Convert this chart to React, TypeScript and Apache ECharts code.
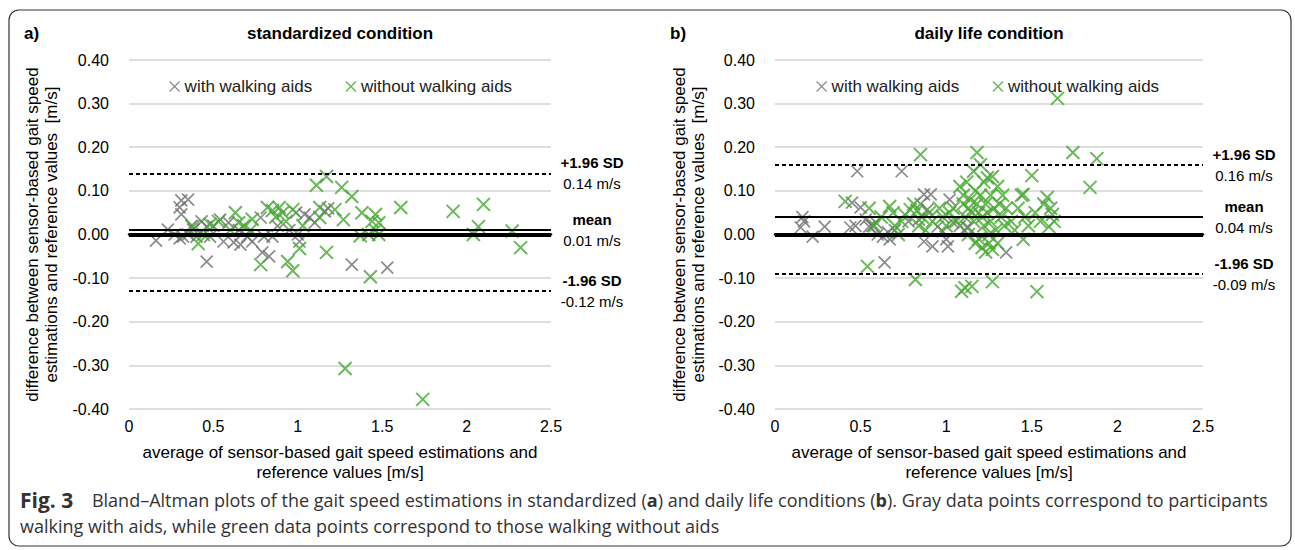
import React, { useEffect, useRef } from "react";
import * as echarts from "echarts";

const seriesNames = ["with walking aids", "without walking aids"];
const panelLetters = ["a)", "b)"];
const panelTitles = ["standardized condition", "daily life condition"];
const xAxisTitle = "average of sensor-based gait speed estimations and\nreference values [m/s]";
const yAxisTitle = "difference between sensor-based gait speed\nestimations and reference values  [m/s]";

// (a) standardized condition: [average, difference]
const stdWithAids: number[][] = [
  [0.16, -0.014], [0.23, 0.011], [0.27, 0.0], [0.3, 0.062], [0.31, 0.078], [0.35, 0.08], [0.31, 0.046],
  [0.32, -0.005], [0.3, -0.009], [0.35, 0.0], [0.37, 0.02], [0.38, 0.011], [0.4, -0.005], [0.43, 0.03],
  [0.46, 0.018], [0.46, -0.062], [0.48, -0.005], [0.5, 0.02], [0.54, 0.034], [0.56, -0.016], [0.59, 0.027],
  [0.62, -0.018], [0.65, 0.01], [0.66, -0.023], [0.7, -0.005], [0.73, -0.016], [0.78, 0.039], [0.79, -0.041],
  [0.83, -0.05], [0.8, -0.005], [0.85, -0.005], [0.88, 0.02], [0.95, 0.01], [0.99, 0.05], [1.0, 0.0],
  [1.01, -0.016], [1.04, 0.046], [1.07, 0.039], [1.1, 0.027], [1.16, 0.053], [1.18, 0.06], [1.32, -0.069],
  [1.53, -0.076],
];
const stdWithoutAids: number[][] = [
  [0.38, 0.018], [0.41, -0.021], [0.44, 0.0], [0.48, 0.023], [0.53, 0.03], [0.6, 0.01], [0.63, 0.05],
  [0.65, 0.027], [0.68, 0.02], [0.72, 0.01], [0.73, 0.035], [0.78, -0.069], [0.82, 0.062], [0.85, 0.055],
  [0.87, 0.04], [0.89, 0.062], [0.91, 0.05], [0.93, 0.03], [0.97, 0.057], [0.94, -0.062], [0.97, -0.083],
  [1.01, -0.032], [1.03, 0.02], [1.11, 0.113], [1.17, 0.133], [1.13, 0.062], [1.13, 0.039], [1.17, -0.041],
  [1.22, 0.057], [1.26, 0.108], [1.27, 0.034], [1.32, 0.087], [1.28, -0.307], [1.38, 0.05], [1.37, -0.003],
  [1.42, 0.0], [1.44, 0.03], [1.46, 0.046], [1.48, 0.027], [1.48, 0.0], [1.46, 0.01], [1.43, -0.097],
  [1.61, 0.062], [1.74, -0.378], [1.92, 0.053], [2.04, 0.0], [2.07, 0.018], [2.1, 0.069], [2.27, 0.008],
  [2.32, -0.03],
];

// (b) daily life condition: [average, difference]
const dailyWithAids: number[][] = [
  [0.16, 0.04], [0.15, 0.016], [0.17, 0.03], [0.22, -0.005], [0.29, 0.018], [0.45, 0.073], [0.48, 0.145],
  [0.5, 0.062], [0.44, 0.016], [0.47, 0.02], [0.53, 0.034], [0.55, 0.018], [0.57, 0.02], [0.59, 0.027],
  [0.6, 0.0], [0.63, -0.005], [0.64, -0.064], [0.67, -0.011], [0.66, 0.005], [0.74, 0.145], [0.7, 0.01],
  [0.78, 0.03], [0.84, 0.034], [0.85, 0.07], [0.87, 0.092], [0.91, 0.092], [0.89, 0.057], [0.87, -0.016],
  [0.92, -0.027], [0.95, 0.018], [0.98, 0.007], [1.0, -0.011], [1.01, -0.027], [1.02, 0.08], [1.04, 0.027],
  [1.08, 0.02], [1.12, 0.016], [1.13, 0.016], [1.35, -0.041],
];
const dailyWithoutAids: number[][] = [
  [0.41, 0.076], [0.54, -0.073], [0.55, 0.06], [0.58, 0.02], [0.62, 0.04], [0.67, 0.064], [0.69, 0.05],
  [0.7, 0.02], [0.72, 0.0], [0.74, 0.03], [0.76, 0.045], [0.79, 0.057], [0.81, 0.07], [0.83, 0.055],
  [0.85, 0.183], [0.82, -0.103], [0.84, 0.02], [0.86, 0.04], [0.88, 0.01], [0.9, 0.05], [0.92, 0.03],
  [0.96, 0.06], [0.98, 0.04], [1.0, 0.02], [1.02, 0.05], [1.04, 0.06], [1.06, 0.03], [1.08, 0.11],
  [1.09, -0.13], [1.1, 0.09], [1.1, 0.07], [1.11, 0.04], [1.11, -0.122], [1.12, 0.12], [1.13, 0.06],
  [1.13, 0.0], [1.14, 0.08], [1.15, 0.05], [1.15, -0.119], [1.16, 0.145], [1.16, 0.03], [1.17, 0.1],
  [1.17, -0.02], [1.18, 0.188], [1.18, 0.07], [1.19, 0.05], [1.19, -0.01], [1.2, 0.16], [1.2, 0.09],
  [1.21, 0.04], [1.21, -0.03], [1.22, 0.12], [1.22, 0.02], [1.23, 0.07], [1.23, -0.04], [1.24, 0.13],
  [1.24, 0.05], [1.25, 0.0], [1.25, -0.02], [1.26, 0.09], [1.26, 0.03], [1.27, 0.133], [1.27, -0.108],
  [1.27, -0.034], [1.28, 0.06], [1.29, 0.01], [1.3, 0.11], [1.3, -0.02], [1.31, 0.07], [1.32, 0.04],
  [1.33, 0.09], [1.34, 0.02], [1.35, 0.06], [1.38, 0.03], [1.4, 0.01], [1.42, 0.06], [1.44, 0.09],
  [1.45, 0.092], [1.45, -0.011], [1.46, 0.04], [1.48, 0.02], [1.5, 0.135], [1.52, 0.05], [1.53, -0.131],
  [1.55, 0.03], [1.57, 0.07], [1.59, 0.085], [1.6, 0.018], [1.61, 0.06], [1.62, 0.046], [1.63, 0.03],
  [1.65, 0.312], [1.74, 0.188], [1.84, 0.108], [1.88, 0.174],
];

const meanValues = [0.012, 0.04];
const upperLoA = [0.141, 0.1615];
const lowerLoA = [-0.13, -0.088];
const meanLabels = ["0.01 m/s", "0.04 m/s"];
const upperLabels = ["0.14 m/s", "0.16 m/s"];
const lowerLabels = ["-0.12 m/s", "-0.09 m/s"];

const captionLine1 =
  "{f|Fig. 3}    Bland–Altman plots of the gait speed estimations in standardized ({b|a}) and daily life conditions ({b|b}). Gray data points correspond to participants";
const captionLine2 = "walking with aids, while green data points correspond to those walking without aids";

const GRAY = "#6d6e71";
const GREEN = "#45a82f";
const FONT = "Liberation Sans, Arial, sans-serif";
const CAPFONT = "Open Sans, sans-serif";
const CROSS = "path://M0,0L10,10M10,0L0,10";

export default function App() {
  const ref = useRef<HTMLDivElement>(null);
  useEffect(() => {
    document.body.style.margin = "0";
    const chart = echarts.init(ref.current!, null, { renderer: "svg" });
    const grids = [
      { left: 129, top: 60, width: 422, height: 349 },
      { left: 775, top: 60, width: 428, height: 349 },
    ];
    const panels = [
      [stdWithAids, stdWithoutAids],
      [dailyWithAids, dailyWithoutAids],
    ];
    const series: any[] = [];
    const graphic: any[] = [];
    panels.forEach((p, i) => {
      series.push({
        type: "scatter",
        name: seriesNames[0],
        xAxisIndex: i,
        yAxisIndex: i,
        data: p[0],
        symbol: CROSS,
        symbolSize: 12,
        silent: true,
        itemStyle: { color: "transparent", borderColor: GRAY, borderWidth: 1.7 },
        z: 3,
      });
      series.push({
        type: "scatter",
        name: seriesNames[1],
        xAxisIndex: i,
        yAxisIndex: i,
        data: p[1],
        symbol: CROSS,
        symbolSize: 13,
        silent: true,
        itemStyle: { color: "transparent", borderColor: GREEN, borderWidth: 2 },
        z: 4,
      });
      const lbl = (title: string, val: string) => ({
        show: true,
        position: "end",
        distance: 41,
        align: "center",
        formatter: `{b|${title}}\n{n|${val}}`,
        rich: {
          b: { fontFamily: FONT, fontSize: 15, fontWeight: "bold", color: "#000", lineHeight: 21 },
          n: { fontFamily: FONT, fontSize: 15, color: "#000", lineHeight: 21 },
        },
      });
      series.push({
        type: "scatter",
        name: "limits" + i,
        xAxisIndex: i,
        yAxisIndex: i,
        data: [],
        silent: true,
        z: 6,
        markLine: {
          silent: true,
          symbol: "none",
          animation: false,
          data: [
            { yAxis: 0, lineStyle: { color: "#000", width: 4, type: "solid" }, label: { show: false } },
            { yAxis: meanValues[i], lineStyle: { color: "#000", width: 2, type: "solid" }, label: lbl("mean", meanLabels[i]) },
            { yAxis: upperLoA[i], lineStyle: { color: "#000", width: 2, type: [4, 3] }, label: lbl("+1.96 SD", upperLabels[i]) },
            { yAxis: lowerLoA[i], lineStyle: { color: "#000", width: 2, type: [4, 3] }, label: lbl("-1.96 SD", lowerLabels[i]) },
          ],
        },
      });
      const g = grids[i];
      const cx = g.left + g.width / 2;
      graphic.push({
        type: "text",
        x: cx,
        y: 33,
        style: { text: panelTitles[i], fontFamily: FONT, fontSize: 17, fontWeight: "bold", fill: "#000", align: "center", verticalAlign: "middle" },
      });
      graphic.push({
        type: "text",
        x: i === 0 ? 24 : 670,
        y: 33,
        style: { text: panelLetters[i], fontFamily: FONT, fontSize: 17, fontWeight: "bold", fill: "#000", align: "left", verticalAlign: "middle" },
      });
      graphic.push({
        type: "text",
        x: cx,
        y: 462,
        style: { text: xAxisTitle, fontFamily: FONT, fontSize: 17, fill: "#000", align: "center", verticalAlign: "middle", lineHeight: 20 },
      });
      graphic.push({
        type: "text",
        x: i === 0 ? 42 : 689,
        y: g.top + g.height / 2,
        rotation: Math.PI / 2,
        style: { text: yAxisTitle, fontFamily: FONT, fontSize: 17, fill: "#000", align: "center", verticalAlign: "middle", lineHeight: 19 },
      });
    });
    graphic.push({
      type: "rect",
      shape: { x: 9, y: 10, width: 1282, height: 536, r: 10 },
      style: { fill: "none", stroke: "#333", lineWidth: 1.2 },
      silent: true,
    });
    const capRich = {
      f: { fontFamily: CAPFONT, fontSize: 21, fontWeight: "bold", fill: "#333" },
      b: { fontFamily: CAPFONT, fontSize: 18, fontWeight: "bold", fill: "#333" },
    };
    graphic.push({
      type: "text",
      x: 20,
      y: 500,
      style: { text: captionLine1, rich: capRich, fontFamily: CAPFONT, fontSize: 18, fill: "#333", align: "left", verticalAlign: "middle" },
    });
    graphic.push({
      type: "text",
      x: 20,
      y: 526,
      style: { text: captionLine2, fontFamily: CAPFONT, fontSize: 18, fill: "#333", align: "left", verticalAlign: "middle" },
    });

    const legendData = [
      { name: seriesNames[0], itemStyle: { color: "transparent", borderColor: GRAY, borderWidth: 1.2 } },
      { name: seriesNames[1], itemStyle: { color: "transparent", borderColor: GREEN, borderWidth: 1.5 } },
    ];
    const legendBase = {
      top: 73,
      icon: CROSS,
      itemWidth: 10,
      itemHeight: 10,
      itemGap: 33,
      selectedMode: false,
      data: legendData,
      textStyle: { fontFamily: FONT, fontSize: 17, color: "#222" },
    };

    const xAxis = grids.map((_, i) => ({
      type: "value",
      gridIndex: i,
      min: 0,
      max: 2.5,
      interval: 0.5,
      axisLine: { show: true, lineStyle: { color: "#000", width: 2.5 } },
      axisTick: { show: false },
      splitLine: { show: false },
      axisLabel: { fontFamily: FONT, fontSize: 16, color: "#000", margin: 9 },
    }));
    const yAxis = grids.map((_, i) => ({
      type: "value",
      gridIndex: i,
      min: -0.4,
      max: 0.4,
      interval: 0.1,
      axisLine: { show: false },
      axisTick: { show: false },
      splitLine: { show: true, lineStyle: { color: "#d3d3d3", width: 1.5 } },
      axisLabel: {
        fontFamily: FONT,
        fontSize: 16,
        color: "#000",
        margin: 20,
        formatter: (v: number) => v.toFixed(2),
      },
    }));

    chart.setOption({
      animation: false,
      backgroundColor: "#fff",
      grid: grids,
      xAxis,
      yAxis,
      legend: [
        { ...legendBase, left: 164 },
        { ...legendBase, left: 811 },
      ],
      series,
      graphic,
    });
    return () => chart.dispose();
  }, []);
  return <div ref={ref} style={{ width: 1295, height: 550 }} />;
}
